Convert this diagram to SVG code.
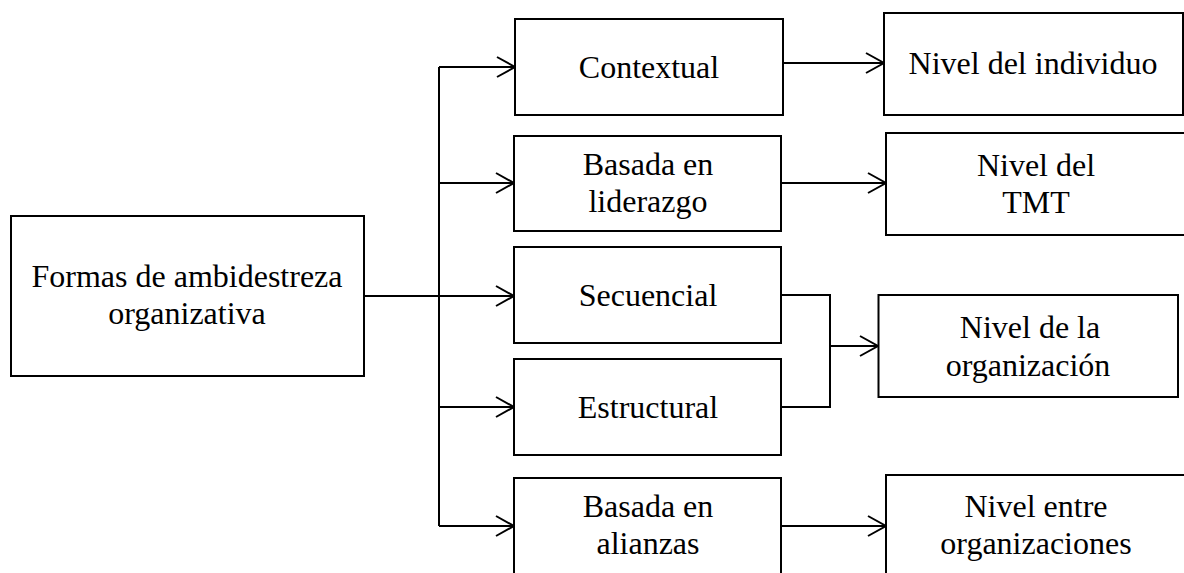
<svg xmlns="http://www.w3.org/2000/svg" width="1184" height="573" viewBox="0 0 1184 573">
  <style>
    .box { fill: #fff; stroke: #000; stroke-width: 2; }
    .lbl { font-family: "Liberation Serif", "Times New Roman", serif; font-size: 32px; fill: #000; text-anchor: middle; }
    .wire { fill: none; stroke: #000; stroke-width: 2; }
  </style>
  <defs>
    <marker id="open-arrow" markerUnits="userSpaceOnUse" markerWidth="22" markerHeight="24" refX="19" refY="11" orient="auto" overflow="visible">
      <path d="M1,1 L19,11 L1,21" fill="none" stroke="#000" stroke-width="2"/>
    </marker>
  </defs>
  <rect width="1184" height="573" fill="#fff"/>

  <!-- connectors -->
  <g id="connectors" class="wire">
    <path d="M364,296 H439"/>
    <path d="M439,67 V526"/>
    <path d="M439,67 H515" marker-end="url(#open-arrow)"/>
    <path d="M439,183 H514" marker-end="url(#open-arrow)"/>
    <path d="M439,296 H514" marker-end="url(#open-arrow)"/>
    <path d="M439,407 H514" marker-end="url(#open-arrow)"/>
    <path d="M439,526 H514" marker-end="url(#open-arrow)"/>
    <path d="M783,63 H884" marker-end="url(#open-arrow)"/>
    <path d="M781,183 H886" marker-end="url(#open-arrow)"/>
    <path d="M781,295 H830 V407 H781"/>
    <path d="M830,346 H878" marker-end="url(#open-arrow)"/>
    <path d="M781,526 H886" marker-end="url(#open-arrow)"/>
  </g>

  <!-- root -->
  <g id="formas">
    <rect class="box" x="11" y="216" width="353" height="160"/>
    <text class="lbl" x="187" y="287">Formas de ambidestreza</text>
    <text class="lbl" x="187" y="324">organizativa</text>
  </g>

  <!-- forms -->
  <g id="contextual">
    <rect class="box" x="515" y="19" width="268" height="96"/>
    <text class="lbl" x="649" y="78">Contextual</text>
  </g>
  <g id="liderazgo">
    <rect class="box" x="514" y="136" width="267" height="95"/>
    <text class="lbl" x="648" y="175">Basada en</text>
    <text class="lbl" x="648" y="212">liderazgo</text>
  </g>
  <g id="secuencial">
    <rect class="box" x="514" y="247" width="267" height="96"/>
    <text class="lbl" x="648" y="306">Secuencial</text>
  </g>
  <g id="estructural">
    <rect class="box" x="514" y="359" width="267" height="96"/>
    <text class="lbl" x="648" y="418">Estructural</text>
  </g>
  <g id="alianzas">
    <rect class="box" x="514" y="478" width="267" height="110"/>
    <text class="lbl" x="648" y="517">Basada en</text>
    <text class="lbl" x="648" y="554">alianzas</text>
  </g>

  <!-- levels -->
  <g id="individuo">
    <rect class="box" x="884" y="13" width="299" height="102"/>
    <text class="lbl" x="1033" y="74">Nivel del individuo</text>
  </g>
  <g id="tmt">
    <rect class="box" x="886" y="133" width="310" height="102"/>
    <text class="lbl" x="1036" y="176">Nivel del</text>
    <text class="lbl" x="1036" y="213">TMT</text>
  </g>
  <g id="organizacion">
    <rect class="box" x="878.5" y="295" width="299.5" height="102"/>
    <text class="lbl" x="1030" y="338">Nivel de la</text>
    <text class="lbl" x="1028" y="376">organización</text>
  </g>
  <g id="entre">
    <rect class="box" x="886" y="475" width="310" height="110"/>
    <text class="lbl" x="1036" y="517">Nivel entre</text>
    <text class="lbl" x="1036" y="554">organizaciones</text>
  </g>
</svg>
